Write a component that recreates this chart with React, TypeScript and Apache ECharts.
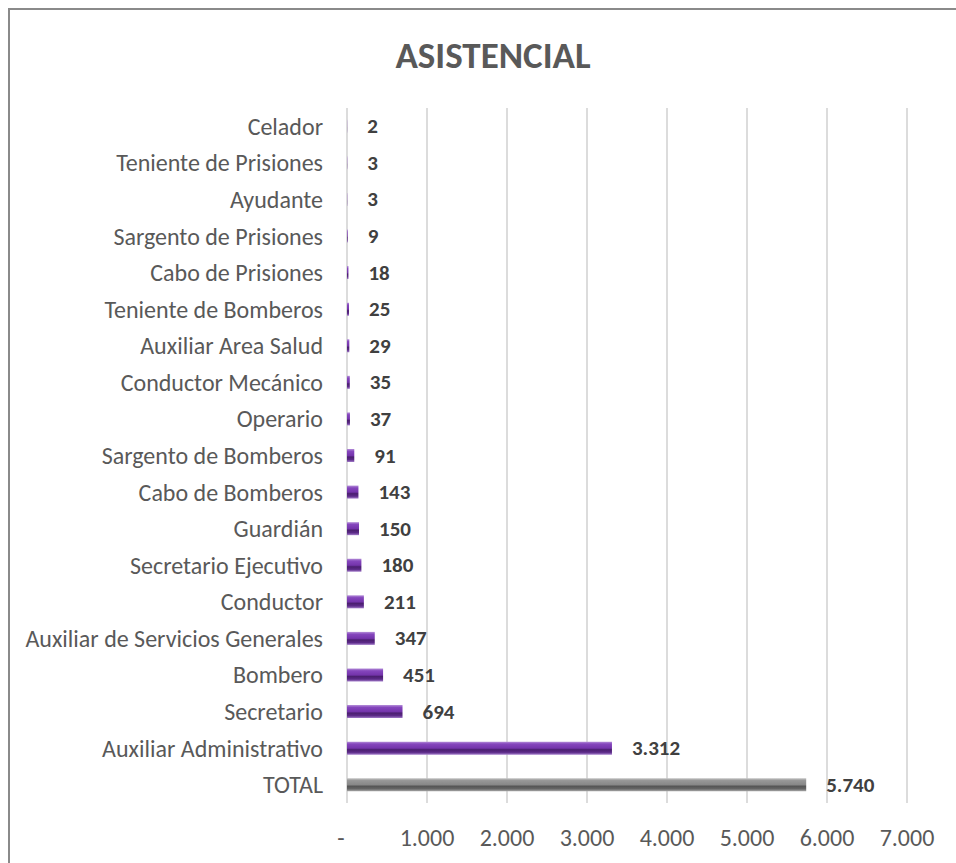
import React, { useEffect, useRef } from "react";
import * as echarts from "echarts";

const TITLE = "ASISTENCIAL";
const categories = [
  "Celador",
  "Teniente de Prisiones",
  "Ayudante",
  "Sargento de Prisiones",
  "Cabo de Prisiones",
  "Teniente de Bomberos",
  "Auxiliar Area Salud",
  "Conductor Mecánico",
  "Operario",
  "Sargento de Bomberos",
  "Cabo de Bomberos",
  "Guardián",
  "Secretario Ejecutivo",
  "Conductor",
  "Auxiliar de Servicios Generales",
  "Bombero",
  "Secretario",
  "Auxiliar Administrativo",
  "TOTAL",
];
const values = [2, 3, 3, 9, 18, 25, 29, 35, 37, 91, 143, 150, 180, 211, 347, 451, 694, 3312, 5740];
const xTicks = [0, 1000, 2000, 3000, 4000, 5000, 6000, 7000];

const FONT = "Carlito, Lato, 'Open Sans', sans-serif";

const fmt = (v: number) => {
  if (v === 0) return "-";
  return String(v).replace(/\B(?=(\d{3})+(?!\d))/g, ".");
};

const purpleGrad = new echarts.graphic.LinearGradient(0, 0, 0, 1, [
  { offset: 0, color: "#b48ed8" },
  { offset: 0.18, color: "#8546bd" },
  { offset: 0.5, color: "#7434ab" },
  { offset: 0.62, color: "#4b1f70" },
  { offset: 0.82, color: "#5c2a88" },
  { offset: 1, color: "#a27bc9" },
]);
const grayGrad = new echarts.graphic.LinearGradient(0, 0, 0, 1, [
  { offset: 0, color: "#c4c4c4" },
  { offset: 0.18, color: "#979797" },
  { offset: 0.5, color: "#888888" },
  { offset: 0.62, color: "#555555" },
  { offset: 0.82, color: "#666666" },
  { offset: 1, color: "#a8a8a8" },
]);

export default function App() {
  const ref = useRef<HTMLDivElement>(null);
  useEffect(() => {
    if (!ref.current) return;
    const chart = echarts.init(ref.current, undefined, { renderer: "svg" });
    chart.setOption({
      animation: false,
      backgroundColor: "transparent",
      title: {
        text: TITLE,
        left: 488,
        textAlign: "center",
        top: 32,
        textStyle: { fontFamily: FONT, fontSize: 37, fontWeight: "bold", color: "#595959" },
      },
      grid: { left: 347, right: 49, top: 108, bottom: 60, containLabel: false },
      xAxis: {
        type: "value",
        min: 0,
        max: 7000,
        interval: 1000,
        axisLine: { show: false },
        axisTick: { show: false },
        splitLine: { show: true, lineStyle: { color: "#dcdcdc", width: 2 } },
        axisLabel: {
          margin: 22,
          color: "#595959",
          fontFamily: FONT,
          fontSize: 24,
          formatter: (v: number) => (v === 0 ? "{d|-}" : fmt(v)),
          rich: { d: { padding: [0, 12, 0, 0], fontSize: 24, fontFamily: FONT, color: "#595959" } },
          customValues: xTicks,
        },
      },
      yAxis: {
        type: "category",
        inverse: true,
        data: categories,
        axisLine: { show: false },
        axisTick: { show: false },
        axisLabel: { margin: 24, color: "#595959", fontFamily: FONT, fontSize: 24 },
      },
      series: [
        {
          type: "bar",
          barWidth: 13,
          data: values.map((v, i) => ({
            value: v,
            itemStyle: { color: categories[i] === "TOTAL" ? grayGrad : purpleGrad },
          })),
          label: {
            show: true,
            position: "right",
            distance: 20,
            color: "#404040",
            fontFamily: FONT,
            fontSize: 21,
            fontWeight: "bold",
            formatter: (p: any) => fmt(p.value),
          },
        },
      ],
    });
    return () => chart.dispose();
  }, []);
  return (
    <div style={{ position: "fixed", left: 0, top: 0, width: 956, height: 863, overflow: "hidden", background: "#fff" }}>
      <div
        style={{
          position: "absolute",
          left: 8,
          top: 8,
          width: 1000,
          height: 1000,
          border: "2px solid #8a8a8a",
          boxSizing: "border-box",
        }}
      />
      <div ref={ref} style={{ position: "absolute", left: 0, top: 0, width: 956, height: 863 }} />
    </div>
  );
}
